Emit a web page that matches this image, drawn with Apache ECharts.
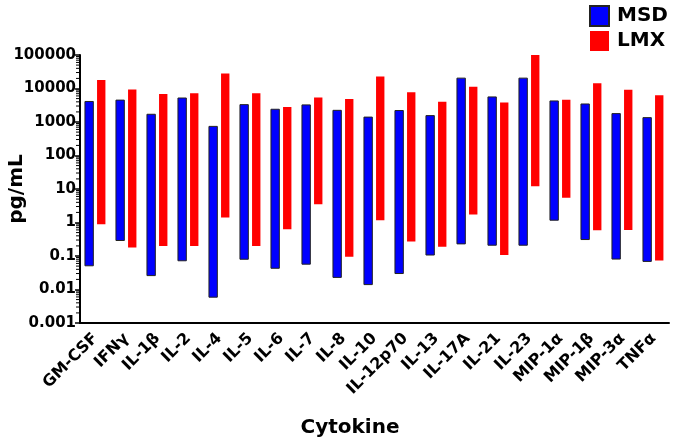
<!DOCTYPE html>
<html>
<head>
<meta charset="utf-8">
<script src="https://cdn.jsdelivr.net/npm/echarts@6/dist/echarts.min.js"></script>
<style>
  html, body { margin: 0; padding: 0; background: #fff; }
  #chart { width: 675px; height: 447px; }
</style>
</head>
<body>
<div id="chart"></div>
<script>
// cytokine dynamic ranges, pg/mL (low .. high)
var categories = ['GM-CSF', 'IFNγ', 'IL-1β', 'IL-2', 'IL-4', 'IL-5', 'IL-6', 'IL-7', 'IL-8', 'IL-10',
  'IL-12p70', 'IL-13', 'IL-17A', 'IL-21', 'IL-23', 'MIP-1α', 'MIP-1β', 'MIP-3α', 'TNFα'];
var msdLow = [0.051, 0.29, 0.026, 0.072, 0.0059, 0.08, 0.043, 0.057, 0.023, 0.014,
  0.03, 0.107, 0.23, 0.21, 0.21, 1.17, 0.31, 0.081, 0.069];
var msdHigh = [4100, 4500, 1700, 5200, 740, 3300, 2400, 3240, 2230, 1400,
  2200, 1550, 20400, 5600, 20400, 4250, 3450, 1780, 1350];
var lmxLow = [0.89, 0.18, 0.2, 0.2, 1.4, 0.2, 0.63, 3.5, 0.095, 1.17,
  0.27, 0.19, 1.74, 0.107, 12, 5.5, 0.59, 0.6, 0.074];
var lmxHigh = [17800, 9400, 6900, 7200, 28000, 7200, 2800, 5400, 4850, 23000,
  7700, 4000, 11300, 3800, 100000, 4650, 14400, 9100, 6300];
// log-spaced minor ticks between decades
var minorTickValues = [];
[0.001, 0.01, 0.1, 1, 10, 100, 1000, 10000].forEach(function (d) {
  for (var m = 2; m <= 9; m++) minorTickValues.push(+(m * d).toPrecision(2));
});

var FONT = 'DejaVu Sans';

function rangeBar(offset, style) {
  return function (params, api) {
    var cat = api.value(0);
    var lo = api.coord([cat, api.value(1)]);
    var hi = api.coord([cat, api.value(2)]);
    var bw = api.size([1, 0])[0];
    return {
      type: 'rect',
      shape: { x: lo[0] + bw * offset, y: hi[1], width: bw * 0.27, height: lo[1] - hi[1] },
      style: style
    };
  };
}

var myChart = echarts.init(document.getElementById('chart'));
var option = {
  backgroundColor: '#fff',
  animation: false,
  grid: { left: 80, right: 6, top: 55, bottom: 124, outerBoundsMode: 'none', containLabel: false },
  legend: {
    orient: 'vertical',
    left: 584,
    top: 0,
    itemWidth: 19,
    itemHeight: 20,
    itemGap: 4,
    icon: 'rect',
    data: ['MSD', 'LMX'],
    textStyle: { fontFamily: FONT, fontWeight: 'bold', fontSize: 20, color: '#000', padding: [0, 0, 0, 3] }
  },
  xAxis: {
    type: 'category',
    data: categories,
    axisLine: { lineStyle: { color: '#000', width: 2 } },
    axisTick: { alignWithLabel: true, length: 5, lineStyle: { color: '#000', width: 1.5 } },
    axisLabel: {
      interval: 0, rotate: 45, margin: 13,
      fontFamily: FONT, fontWeight: 'bold', fontSize: 16, color: '#000'
    },
    splitLine: { show: false }
  },
  yAxis: {
    type: 'log',
    logBase: 10,
    min: 0.001,
    max: 100000,
    axisLine: { show: true, lineStyle: { color: '#000', width: 2 } },
    axisTick: { show: true, length: 5, lineStyle: { color: '#000', width: 1.5 } },
    axisLabel: {
      margin: 4,
      fontFamily: FONT, fontWeight: 'bold', fontSize: 15, color: '#000',
      formatter: function (v) { return String(+v.toPrecision(3)); }
    },
    splitLine: { show: false }
  },
  graphic: [{
    type: 'text',
    x: 350, y: 428,
    style: {
      text: 'Cytokine', textAlign: 'center', textVerticalAlign: 'middle',
      font: 'bold 20px "DejaVu Sans"', fill: '#000'
    }
  }, {
    type: 'text',
    x: 17, y: 189,
    rotation: Math.PI / 2,
    style: {
      text: 'pg/mL', textAlign: 'center', textVerticalAlign: 'middle',
      font: 'bold 20px "DejaVu Sans"', fill: '#000'
    }
  }],
  series: [
    {
      name: 'MSD',
      type: 'custom',
      itemStyle: { color: '#0000ff', borderColor: '#222', borderWidth: 1 },
      renderItem: rangeBar(-0.34, { fill: '#0000ff', stroke: '#222', lineWidth: 1 }),
      encode: { x: 0, y: [1, 2] },
      data: categories.map(function (c, i) { return [i, msdLow[i], msdHigh[i]]; })
    },
    {
      name: 'LMX',
      type: 'custom',
      itemStyle: { color: '#ff0000' },
      renderItem: rangeBar(0.05, { fill: '#ff0000' }),
      encode: { x: 0, y: [1, 2] },
      data: categories.map(function (c, i) { return [i, lmxLow[i], lmxHigh[i]]; })
    },
    {
      name: 'minor',
      type: 'custom',
      silent: true,
      clip: false,
      renderItem: function (params, api) {
        var p = api.coord([0, api.value(1)]);
        var x0 = p[0] - api.size([1, 0])[0] / 2 - 1;
        return {
          type: 'line',
          shape: { x1: x0 - 3, y1: p[1], x2: x0, y2: p[1] },
          style: { stroke: '#000', lineWidth: 1 }
        };
      },
      encode: { x: 0, y: 1 },
      data: minorTickValues.map(function (v) { return [0, v]; })
    }
  ]
};
myChart.setOption(option);
</script>
</body>
</html>
